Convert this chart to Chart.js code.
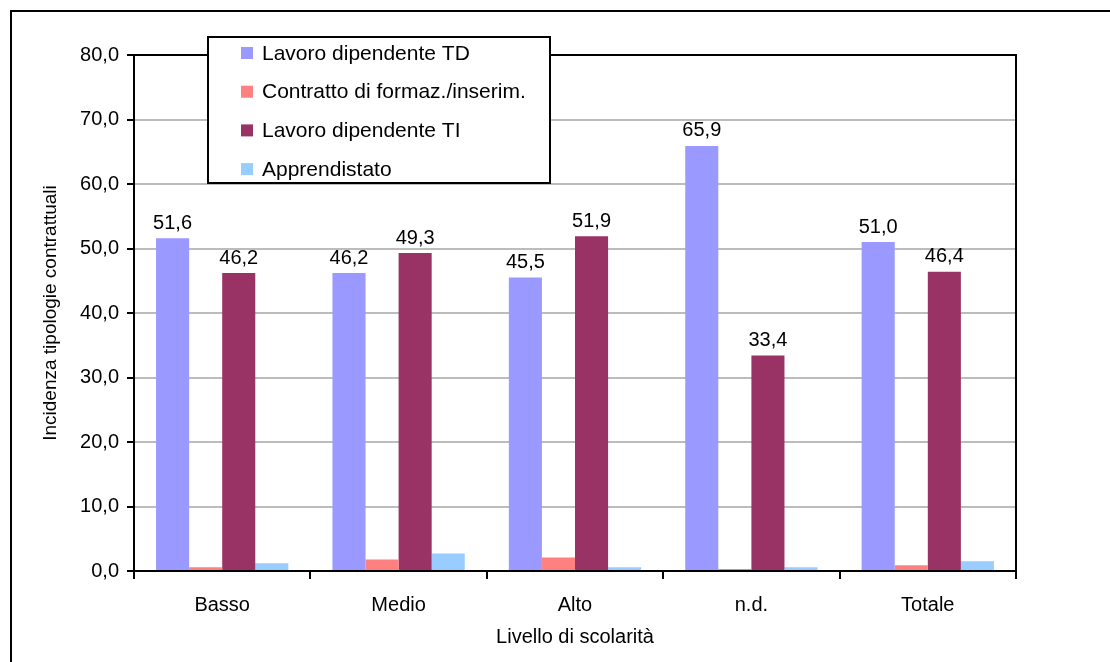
<!DOCTYPE html>
<html>
<head>
<meta charset="utf-8">
<script src="https://cdn.jsdelivr.net/npm/chart.js@4/dist/chart.umd.min.js"></script>
<style>
  body { margin: 0; background: #fff; }
  #wrap { width: 1110px; height: 662px; position: relative; }
</style>
</head>
<body>
<div id="wrap"><canvas id="grafico" width="1110" height="662"></canvas></div>
<script>
var categorie = ["Basso", "Medio", "Alto", "n.d.", "Totale"];
var lavoroTD = [51.6, 46.2, 45.5, 65.9, 51.0];
var contrattoFormaz = [0.6, 1.8, 2.1, 0.3, 0.9];
var lavoroTI = [46.2, 49.3, 51.9, 33.4, 46.4];
var apprendistato = [1.2, 2.7, 0.6, 0.6, 1.5];
var tickY = [0, 10, 20, 30, 40, 50, 60, 70, 80];

var font = "'Liberation Sans', Arial, sans-serif";

function virgola(v) {
  return v.toFixed(1).replace(".", ",");
}

// cornice esterna, bordo del grafico, etichette sopra le barre e legenda
const pluginExtra = {
  id: "extra",
  afterDraw(chart) {
    const ctx = chart.ctx;
    const a = chart.chartArea;
    ctx.save();
    ctx.strokeStyle = "#000";
    ctx.lineWidth = 2;
    ctx.strokeRect(11, 11, 1200, 700);

    // bordo sopra e a destra dell'area del grafico
    ctx.beginPath();
    ctx.moveTo(a.left, a.top);
    ctx.lineTo(a.right, a.top);
    ctx.lineTo(a.right, a.bottom);
    ctx.stroke();

    ctx.font = "20px " + font;
    ctx.fillStyle = "#000";
    ctx.textAlign = "center";
    ctx.textBaseline = "bottom";
    [0, 2].forEach(function (i) {
      const meta = chart.getDatasetMeta(i);
      meta.data.forEach(function (bar, j) {
        ctx.fillText(virgola(chart.data.datasets[i].data[j]), bar.x, bar.y - 5);
      });
    });

    // legenda
    const lx = 208, ly = 37, lw = 342, lh = 146;
    ctx.fillStyle = "#fff";
    ctx.fillRect(lx, ly, lw, lh);
    ctx.strokeRect(lx, ly, lw, lh);
    ctx.font = "21px " + font;
    ctx.textAlign = "left";
    ctx.textBaseline = "middle";
    chart.data.datasets.forEach(function (ds, i) {
      const y = 53 + i * 38.7;
      ctx.fillStyle = ds.backgroundColor;
      ctx.fillRect(241, y - 6, 12, 12);
      ctx.fillStyle = "#000";
      ctx.fillText(ds.label, 262, y + 1);
    });
    ctx.restore();
  }
};

new Chart(document.getElementById("grafico"), {
  type: "bar",
  data: {
    labels: categorie,
    datasets: [
      { label: "Lavoro dipendente TD", data: lavoroTD, backgroundColor: "#9999FF" },
      { label: "Contratto di formaz./inserim.", data: contrattoFormaz, backgroundColor: "#FF8080" },
      { label: "Lavoro dipendente TI", data: lavoroTI, backgroundColor: "#993366" },
      { label: "Apprendistato", data: apprendistato, backgroundColor: "#99CCFF" },
    ],
  },
  options: {
    responsive: false,
    animation: false,
    devicePixelRatio: 1,
    layout: { padding: { left: 35, top: 55, right: 94, bottom: 0 } },
    datasets: { bar: { barPercentage: 1, categoryPercentage: 0.75 } },
    plugins: { legend: { display: false }, tooltip: { enabled: false } },
    scales: {
      x: {
        afterFit: function (s) { s.height = 91; },
        grid: { offset: true, drawOnChartArea: false, color: "#000", tickLength: 8, lineWidth: 2 },
        border: { color: "#000", width: 2 },
        ticks: { color: "#000", font: { family: font, size: 20 }, padding: 14 },
        title: { display: true, text: "Livello di scolarità", color: "#000", font: { family: font, size: 20 }, padding: { top: 4, bottom: 13 } },
      },
      y: {
        min: 0,
        max: 80,
        afterFit: function (s) { s.width = 99; },
        afterBuildTicks: function (s) { s.ticks = tickY.map(function (v) { return { value: v }; }); },
        grid: { color: "#bcbcbc", lineWidth: 2, tickColor: "#000", tickLength: 7 },
        border: { color: "#000", width: 2 },
        ticks: { color: "#000", font: { family: font, size: 20 }, padding: 8, callback: function (v) { return virgola(v); } },
        title: { display: true, text: "Incidenza tipologie contrattuali", color: "#000", font: { family: font, size: 19 }, padding: { top: 4, bottom: 4 } },
      },
    },
  },
  plugins: [pluginExtra],
});
</script>
</body>
</html>
